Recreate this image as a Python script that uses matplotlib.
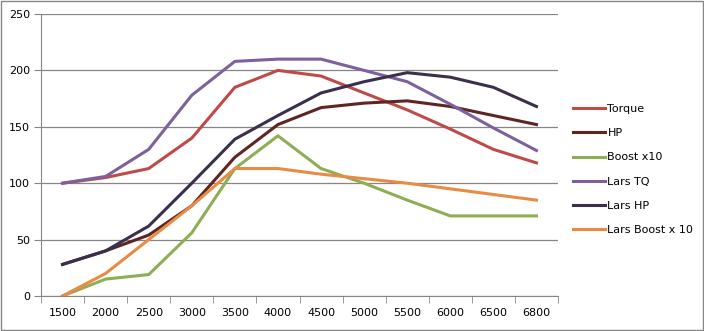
import matplotlib
matplotlib.use("Agg")
import matplotlib.pyplot as plt
import numpy as np
from matplotlib.patches import Rectangle

rpm = ["1500", "2000", "2500", "3000", "3500", "4000", "4500", "5000", "5500", "6000", "6500", "6800"]
torque = [100, 105, 113, 140, 185, 200, 195, 180, 165, 148, 130, 118]
hp = [28, 40, 54, 80, 123, 152, 167, 171, 173, 168, 160, 152]
boost = [0, 15, 19, 56, 113, 142, 113, 100, 85, 71, 71, 71]
lars_tq = [100, 106, 130, 178, 208, 210, 210, 200, 190, 170, 149, 129]
lars_hp = [28, 40, 62, 100, 139, 160, 180, 190, 198, 194, 185, 168]
lars_boost = [0, 20, 50, 80, 113, 113, 108, 104, 100, 95, 90, 85]

series = [
    ("Torque", torque, "#BE4B48"),
    ("HP", hp, "#5E2523"),
    ("Boost x10", boost, "#8EAE55"),
    ("Lars TQ", lars_tq, "#7D619C"),
    ("Lars HP", lars_hp, "#3A2F4C"),
    ("Lars Boost x 10", lars_boost, "#E88B45"),
]

fig = plt.figure(figsize=(7.04, 3.31), dpi=100)
ax = fig.add_axes([41 / 704, 1 - 296 / 331, (558 - 41) / 704, (296 - 14) / 331])

x = np.arange(len(rpm))
for name, vals, col in series:
    ax.plot(x, vals, color=col, lw=2.2, label=name, solid_joinstyle="round")

ax.set_xlim(-0.5, len(rpm) - 0.5)
ax.set_ylim(0, 250)
ax.set_yticks(range(0, 251, 50))
ax.yaxis.grid(True, color="#868686", lw=0.9)
ax.set_axisbelow(True)

ax.set_xticks(x)
ax.set_xticklabels(rpm)
ax.set_xticks(np.arange(-0.5, len(rpm), 1), minor=True)
ax.tick_params(axis="x", which="major", length=0, pad=9, labelsize=8)
ax.tick_params(axis="x", which="minor", length=5, color="#868686")
ax.tick_params(axis="y", length=5, color="#868686", labelsize=8, pad=3)

for s in ["top", "right"]:
    ax.spines[s].set_visible(False)
for s in ["left", "bottom"]:
    ax.spines[s].set_color("#868686")

fig.legend(loc="upper left", bbox_to_anchor=(563 / 704, 1 - 94 / 331), frameon=False,
           fontsize=8, handlelength=2.9, handletextpad=0.2, labelspacing=1.28)

fig.patches.append(Rectangle((0.001, 0.002), 0.997, 0.995, transform=fig.transFigure,
                             fill=False, edgecolor="#868686", lw=1))

fig.savefig("out.png", dpi=100)
